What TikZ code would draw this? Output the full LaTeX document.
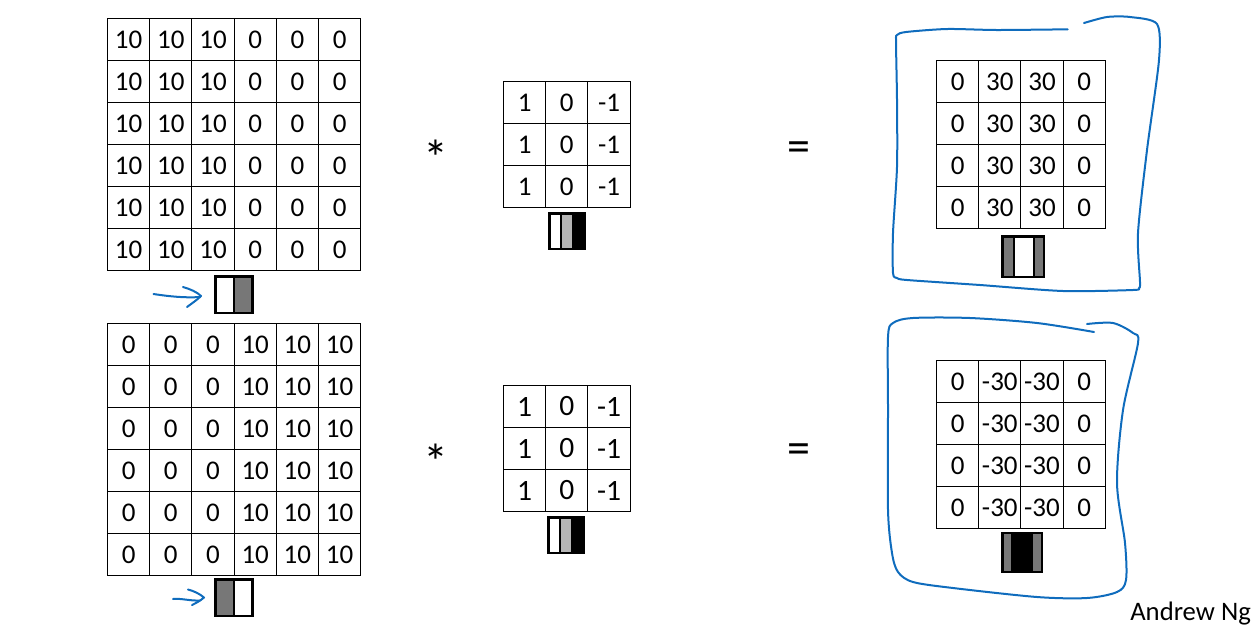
\documentclass[tikz,border=0pt]{standalone}
\usepackage{fontspec}
\setmainfont{Carlito}
\definecolor{inkblue}{HTML}{0F6CBD}
\definecolor{midgray}{HTML}{777777}
\definecolor{lightgray2}{HTML}{B5B5B5}
\tikzset{
  cellbox/.style={draw=black,line width=1.1pt,minimum width=42.2pt,minimum height=42.2pt,inner sep=0pt,outer sep=0pt,font=\fontsize{27}{28}\selectfont},
  bigcell/.style={cellbox,font=\fontsize{29.5}{30}\selectfont},
  barpart/.style={draw=black,line width=2.4pt,inner sep=0pt,outer sep=0pt,anchor=north west},
  ink/.style={draw=inkblue,line width=2pt,line cap=round,line join=round},
  symb/.style={inner sep=0pt,font=\fontsize{50}{52}\selectfont},
  eqsymb/.style={inner sep=0pt,font=\fontsize{46}{48}\selectfont}
}
\newcommand{\gridrow}[5]{% prefix, x0, y, style, list
  \foreach \v [count=\i from 0] in {#5} {
    \node[#4] (#1-\i) at ({#2+21.1+42.2*\i},{#3}) {\raisebox{-2pt}{\v}};
  }
}
\newcommand{\barcell}[6]{% name, x1, y1, x2, y2, fill
  \node[barpart,fill=#6,minimum width={(#4-#2)*1pt},minimum height={(#5-#3)*1pt}] (#1) at (#2,#3) {};
}
\begin{document}
\begin{tikzpicture}[x=1pt,y=-1pt]
\useasboundingbox (0,0) rectangle (1257,625);
% top-left grid
\foreach \r in {0,...,5} {
  \gridrow{A\r}{107.5}{39.5+42*\r}{cellbox}{10,10,10,0,0,0}
  \gridrow{B\r}{107.5}{344.5+42*\r}{cellbox}{0,0,0,10,10,10}
}
% kernels
\foreach \r in {0,1,2} {
  \gridrow{K\r}{503.5}{102.5+42*\r}{cellbox}{1,0,-1}
  \gridrow{L\r}{503.5}{406.5+42*\r}{bigcell}{1,0,-1}
}
% outputs
\foreach \r in {0,1,2,3} {
  \gridrow{O\r}{936.5}{81.5+42*\r}{cellbox}{0,30,30,0}
  \gridrow{P\r}{936.5}{381.5+42*\r}{cellbox}{0,-30,-30,0}
}
% small bars
\barcell{ba}{215.5}{276.5}{234}{313}{white}
\barcell{bb}{234}{276.5}{252.5}{313}{midgray}
\barcell{ca}{215.5}{579.5}{234}{616}{midgray}
\barcell{cb}{234}{579.5}{252.5}{616}{white}
\barcell{ka}{549.5}{213.5}{561}{249}{white}
\barcell{kb}{561}{213.5}{573}{249}{lightgray2}
\barcell{kc}{573}{213.5}{585}{249}{black}
\barcell{la}{548.5}{517.5}{560}{553}{white}
\barcell{lb}{560}{517.5}{572}{553}{lightgray2}
\barcell{lc}{572}{517.5}{584}{553}{black}
\barcell{oa}{1002.5}{236.5}{1014}{277}{midgray}
\barcell{ob}{1014}{236.5}{1034}{277}{white}
\barcell{oc}{1034}{236.5}{1044}{277}{midgray}
\barcell{pa}{1002.5}{533}{1012}{572}{midgray}
\barcell{pb}{1012}{533}{1032}{572}{black}
\barcell{pc}{1032}{533}{1042}{572}{midgray}
% operators
\node[symb] (s1) at (436,158) {\raisebox{-0.13em}{*}};
\node[symb] (s2) at (436,462) {\raisebox{-0.13em}{*}};
\node[eqsymb] (e1) at (799,152) {\raisebox{-0.07em}{=}};
\node[eqsymb] (e2) at (799,454) {\raisebox{-0.07em}{=}};
\node[anchor=south east,inner sep=0pt,font=\fontsize{26.7}{28}\selectfont] (an) at (1251,625) {Andrew Ng};
% freehand outlines
\draw[ink] plot[smooth,tension=0.45] coordinates {(1067.7,29.3) (997,30) (947,29) (906,32) (897,35) (896,42) (897,100) (897,167) (893,233) (893,273) (897,278) (907,280) (980,285) (1063,291) (1133,290) (1139,288) (1140,282) (1138,233) (1147,150) (1159,60) (1157,24) (1130,17) (1107,17) (1084,23)};
\draw[ink] plot[smooth,tension=0.5] coordinates {(1094,332) (1037,323) (970,318) (913,318) (893,323) (888,337) (888,410) (888,510) (892,553) (898,572) (913,582) (953,588) (1037,597) (1087,598) (1117,592) (1126,580) (1125,543) (1117,483) (1123,410) (1138,343) (1133,333) (1113,323) (1087,324)};
% arrows
\coordinate (a1s) at (153.5,294);
\coordinate (a1e) at (200,297);
\coordinate (a1t) at (183,287);
\coordinate (a1b) at (187,307);
\coordinate (a1w) at (201,296);
\draw[ink] (a1s) .. controls (170,296.5) and (185,298) .. (a1e);
\draw[ink] (a1t) .. controls (190,289) and (197,292) .. (a1w) .. controls (197,300) and (191,304) .. (a1b);
\coordinate (a2s) at (173,599);
\coordinate (a2e) at (200,600.5);
\coordinate (a2t) at (188,589.5);
\coordinate (a2b) at (192,605);
\coordinate (a2w) at (204,597.5);
\draw[ink] (a2s) .. controls (180,598) and (190,601) .. (a2e);
\draw[ink] (a2t) .. controls (194,591) and (200,594) .. (a2w) .. controls (200,601) and (196,603) .. (a2b);
\end{tikzpicture}
\end{document}
